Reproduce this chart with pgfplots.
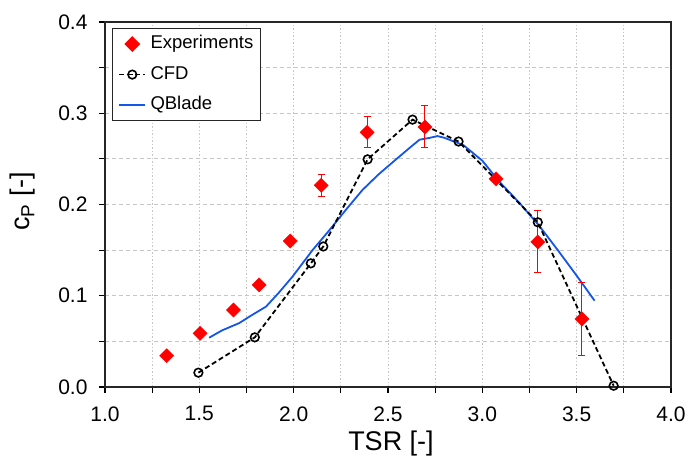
\documentclass[border=0pt]{standalone}
\usepackage{fontspec}
\setmainfont{Liberation Sans}
\usepackage{pgfplots}
\pgfplotsset{compat=1.18}
\definecolor{qblue}{RGB}{20,85,235}
\begin{document}
\begin{tikzpicture}
\useasboundingbox (-105pt,-70pt) rectangle (584pt,387pt);
\begin{axis}[
  at={(0,0)}, anchor=south west,
  scale only axis,
  width=566pt, height=365pt,
  xmin=1, xmax=4, ymin=0, ymax=0.4,
  xtick={1,1.25,1.5,1.75,2,2.25,2.5,2.75,3,3.25,3.5,3.75,4},
  xticklabels={1.0,,1.5,,2.0,,2.5,,3.0,,3.5,,4.0},
  ytick={0,0.05,0.1,0.15,0.2,0.25,0.3,0.35,0.4},
  yticklabels={0.0,,0.1,,0.2,,0.3,,0.4},
  /pgf/number format/assume math mode=true,
  tick align=outside, xtick pos=left, ytick pos=left,
  major tick length=6pt,
  every tick/.style={black, line width=1.2pt},
  axis line style={line width=1.6pt, black!85},
  grid=major,
  x grid style={gray!45, line width=0.8pt, dash pattern=on 1.5pt off 2pt},
  y grid style={gray!45, line width=0.8pt, dash pattern=on 4pt off 3pt},
  ticklabel style={font=\fontsize{21}{25}\selectfont},
  xticklabel style={yshift=-10pt},
  yticklabel style={xshift=-8pt},
  xlabel={TSR [-]},
  ylabel={c\textsubscript{P} [-]},
  label style={font=\fontsize{27}{32}\selectfont},
  xlabel style={at={(axis description cs:0.5,0)}, anchor=base, yshift=-63.5pt, xshift=3pt},
  ylabel style={at={(axis description cs:0,0.5)}, anchor=center, xshift=3pt, yshift=82pt},
  legend style={at={(rel axis cs:0,1)}, anchor=north west, xshift=7pt, yshift=-6pt,
    draw=black!85, line width=1.2pt, font=\fontsize{18.5}{22}\selectfont,
    row sep=11.5pt, inner sep=6pt, column sep=3.5pt,
    nodes={inner sep=1pt, text height=13pt, text depth=4pt}},
  legend cell align=left,
  legend image code/.code={
    \draw[mark repeat=2,mark phase=2] plot coordinates {(0cm,0cm) (0.45cm,0cm) (0.9cm,0cm)};},
]
\addlegendimage{only marks, mark=square*, mark size=5pt, mark options={rotate=45, fill=red, draw=red}}
\addlegendentry{Experiments}
\addlegendimage{black, line width=1.8pt, dash pattern=on 5pt off 3pt, mark=o, mark size=4.3pt, mark options={solid, line width=1.6pt, fill=white}}
\addlegendentry{CFD}
\addlegendimage{qblue, line width=1.8pt}
\addlegendentry{QBlade}

% QBlade
\addplot[qblue, line width=1.8pt, forget plot] table {
x y
1.552 0.054
1.62 0.062
1.711 0.070
1.78 0.079
1.853 0.088
1.92 0.103
1.994 0.121
2.10 0.150
2.19 0.172
2.28 0.195
2.365 0.216
2.45 0.233
2.54 0.249
2.62 0.263
2.667 0.271
2.72 0.273
2.762 0.275
2.80 0.273
2.90 0.265
3.00 0.248
3.09 0.225
3.20 0.201
3.304 0.176
3.40 0.150
3.50 0.122
3.595 0.0946
};

% CFD
\addplot[black, line width=1.8pt, dash pattern=on 5pt off 3pt, mark=o, mark size=4.3pt,
  mark options={solid, line width=1.6pt, fill=white}, forget plot] table {
x y
1.495 0.0157
1.794 0.0544
2.091 0.1355
2.157 0.154
2.392 0.2495
2.630 0.293
2.874 0.269
3.294 0.1805
3.696 0.0014
};

% Experiments
\addplot[only marks, mark=square*, mark size=5pt, mark options={rotate=45, fill=red, draw=red},
  forget plot,
  error bars/.cd, y dir=both, y explicit,
  error bar style={red, line width=1pt},
  error mark options={rotate=90, red, mark size=3.5pt, line width=1pt}]
  table[x=x, y=y, y error plus=ep, y error minus=em] {
x y ep em
1.327 0.0343 0 0
1.504 0.0588 0 0
1.681 0.0844 0 0
1.817 0.112 0 0
1.982 0.160 0 0
2.146 0.221 0.012 0.012
2.389 0.279 0.017 0.017
2.696 0.285 0.023 0.022
3.073 0.228 0 0
3.294 0.159 0.034 0.034
3.528 0.0745 0.040 0.040
};
\end{axis}
\end{tikzpicture}
\end{document}
